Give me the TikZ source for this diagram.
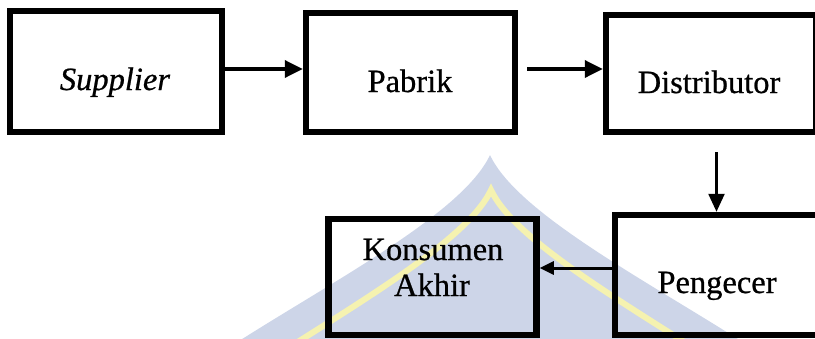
\documentclass[tikz,border=0pt]{standalone}
\usepackage{fontspec}
\setmainfont{Liberation Serif}[FakeBold=0.7]
\usetikzlibrary{arrows.meta}
\definecolor{wmblue}{RGB}{205,213,232}
\definecolor{wmyellow}{RGB}{245,242,176}
\begin{document}
\begin{tikzpicture}[x=1pt,y=-1pt,
  box/.style={draw=black, line width=6.5pt, inner sep=0pt},
  txt/.style={font=\fontsize{32.5}{36}\selectfont, anchor=base, inner sep=0pt},
  arrbig/.style={-{Triangle[length=18pt,width=17pt]}, line width=3.5pt},
  arrmid/.style={-{Triangle[length=18pt,width=16pt]}, line width=2.5pt},
  arrsmall/.style={-{Triangle[length=14pt,width=13pt]}, line width=3pt}
]
\useasboundingbox (0,0) rectangle (815,338);
\clip (0,0) rectangle (815,338);
% watermark
\fill[wmblue] (490,155) .. controls (462,215) and (325,285) .. (225,350)
  -- (755,350) .. controls (655,285) and (518,215) .. (490,155) -- cycle;
\draw[wmyellow, line width=6pt, line join=miter, miter limit=20]
  (285,350) .. controls (380,290) and (470,235) .. (491,190)
  .. controls (512,235) and (602,290) .. (697,350);
% boxes
\node[box, minimum width=212pt, minimum height=121pt] (sup) at (116,71.5) {};
\node[box, minimum width=209pt, minimum height=119pt] (pab) at (410.5,72.5) {};
\node[box, minimum width=210pt, minimum height=117pt] (dis) at (711,73.5) {};
\node[box, minimum width=203pt, minimum height=120pt] (pen) at (716.5,275) {};
\node[box, minimum width=208pt, minimum height=116pt] (kon) at (432.5,277) {};
% texts
\node[txt] (supT) at (115,90) {\textit{Supplier}};
\node[txt] (pabT) at (410,92) {Pabrik};
\node[txt] (disT) at (709,93) {Distributor};
\node[txt] (penT) at (717,293) {Pengecer};
\node[txt] (konT1) at (433,260) {Konsumen};
\node[txt] (konT2) at (432,296) {Akhir};
% connectors
\coordinate (a1) at ([yshift=2.5pt]sup.east);
\draw[arrbig] (a1) -- (pab.west |- a1);
\coordinate (a2) at ([xshift=9pt,yshift=3.5pt]pab.east);
\draw[arrbig] (a2) -- (dis.west |- a2);
\coordinate (a3) at (pen.north |- dis.south);
\draw[arrmid] ([yshift=-17pt]a3) -- (pen.north);
\coordinate (a4) at ([yshift=7pt]pen.west);
\draw[arrsmall] (a4) -- (kon.east |- a4);
\end{tikzpicture}
\end{document}
